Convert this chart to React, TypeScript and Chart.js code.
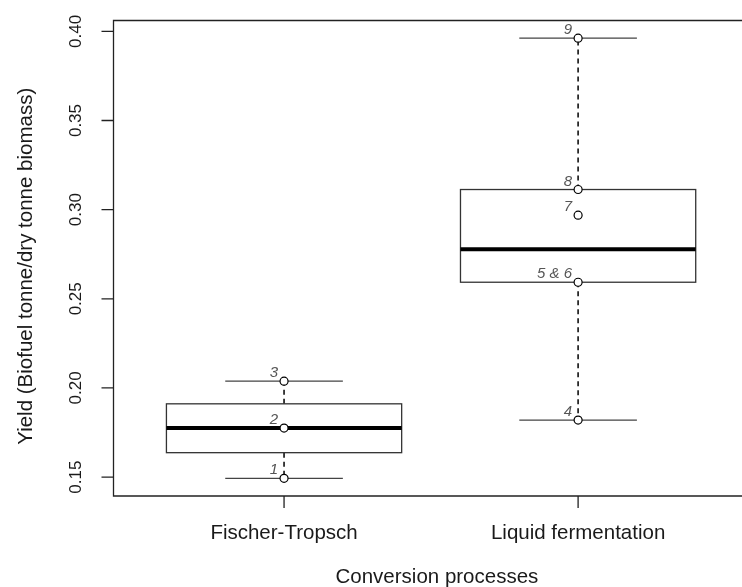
import React, { useEffect, useRef } from "react";
import { Chart, registerables } from "chart.js";

Chart.register(...registerables);

// ---- data ----
const categories = ["Fischer-Tropsch", "Liquid fermentation"];
const categoryPositions = [1, 2];
const whiskerLow = [0.1493, 0.182];
const q1 = [0.1637, 0.2593];
const median = [0.1775, 0.2778];
const q3 = [0.1911, 0.3113];
const whiskerHigh = [0.2038, 0.3962];

const pointGroup = [1, 1, 1, 2, 2, 2, 2, 2];
const pointValues = [0.1493, 0.1775, 0.2038, 0.182, 0.2593, 0.2969, 0.3113, 0.3962];
const pointLabels = ["1", "2", "3", "4", "5 & 6", "7", "8", "9"];

const yTicks = [0.15, 0.2, 0.25, 0.3, 0.35, 0.4];
const yTickLabels = ["0.15", "0.20", "0.25", "0.30", "0.35", "0.40"];
const yMin = 0.1394;
const yMax = 0.4061;
const xMin = 0.42;
const xMax = 2.5397;

const yTitle = "Yield (Biofuel tonne/dry tonne biomass)";
const xTitle = "Conversion processes";

const FONT = "'Liberation Sans', Arial, sans-serif";

const boxPlugin = {
  id: "boxDraw",
  beforeDatasetsDraw(chart: any) {
    const ctx = chart.ctx as CanvasRenderingContext2D;
    const xs = chart.scales.x;
    const ys = chart.scales.y;
    ctx.save();

    categoryPositions.forEach((c, i) => {
      const xl = xs.getPixelForValue(c - 0.4);
      const xr = xs.getPixelForValue(c + 0.4);
      const sl = xs.getPixelForValue(c - 0.2);
      const sr = xs.getPixelForValue(c + 0.2);
      const xc = xs.getPixelForValue(c);
      const yq1 = ys.getPixelForValue(q1[i]);
      const yq3 = ys.getPixelForValue(q3[i]);
      const ymed = ys.getPixelForValue(median[i]);
      const ylo = ys.getPixelForValue(whiskerLow[i]);
      const yhi = ys.getPixelForValue(whiskerHigh[i]);

      // whiskers dashed
      ctx.strokeStyle = "#111";
      ctx.lineWidth = 1.6;
      ctx.setLineDash([5, 4]);
      ctx.beginPath();
      ctx.moveTo(xc, yq1);
      ctx.lineTo(xc, ylo);
      ctx.moveTo(xc, yq3);
      ctx.lineTo(xc, yhi);
      ctx.stroke();
      ctx.setLineDash([]);

      // staples
      ctx.strokeStyle = "#444";
      ctx.lineWidth = 1.3;
      ctx.beginPath();
      ctx.moveTo(sl, ylo);
      ctx.lineTo(sr, ylo);
      ctx.moveTo(sl, yhi);
      ctx.lineTo(sr, yhi);
      ctx.stroke();

      // box
      ctx.strokeStyle = "#333";
      ctx.lineWidth = 1.3;
      ctx.strokeRect(xl, yq3, xr - xl, yq1 - yq3);

      // median
      ctx.strokeStyle = "#000";
      ctx.lineWidth = 4;
      ctx.beginPath();
      ctx.moveTo(xl, ymed);
      ctx.lineTo(xr, ymed);
      ctx.stroke();
    });

    ctx.restore();
  },
  afterDraw(chart: any) {
    const ctx = chart.ctx as CanvasRenderingContext2D;
    const xs = chart.scales.x;
    const ys = chart.scales.y;
    const area = chart.chartArea;
    const W = chart.width;
    ctx.save();

    // frame (top, left, bottom)
    ctx.strokeStyle = "#222";
    ctx.lineWidth = 1.3;
    ctx.beginPath();
    ctx.moveTo(W + 2, area.top);
    ctx.lineTo(area.left, area.top);
    ctx.lineTo(area.left, area.bottom);
    ctx.lineTo(W + 2, area.bottom);
    ctx.stroke();

    // ticks
    ctx.beginPath();
    yTicks.forEach((v) => {
      const y = ys.getPixelForValue(v);
      ctx.moveTo(area.left - 12, y);
      ctx.lineTo(area.left, y);
    });
    categoryPositions.forEach((c) => {
      const x = xs.getPixelForValue(c);
      ctx.moveTo(x, area.bottom);
      ctx.lineTo(x, area.bottom + 12);
    });
    ctx.stroke();

    // y tick labels (rotated)
    ctx.fillStyle = "#1a1a1a";
    ctx.font = `17px ${FONT}`;
    ctx.textAlign = "center";
    ctx.textBaseline = "alphabetic";
    yTicks.forEach((v, i) => {
      const y = ys.getPixelForValue(v);
      ctx.save();
      ctx.translate(area.left - 33, y);
      ctx.rotate(-Math.PI / 2);
      ctx.fillText(yTickLabels[i], 0, 0);
      ctx.restore();
    });

    // x tick labels
    ctx.font = `20.5px ${FONT}`;
    categoryPositions.forEach((c, i) => {
      const x = xs.getPixelForValue(c);
      ctx.fillText(categories[i], x, area.bottom + 43);
    });

    // x title
    ctx.fillText(xTitle, (area.left + xs.getPixelForValue(xMax + 0.08)) / 2, area.bottom + 87);

    // y title
    ctx.save();
    ctx.translate(area.left - 82, (area.top + area.bottom) / 2 + 8);
    ctx.rotate(-Math.PI / 2);
    ctx.fillText(yTitle, 0, 0);
    ctx.restore();

    // point labels
    ctx.fillStyle = "#555";
    ctx.font = `italic 15px ${FONT}`;
    ctx.textAlign = "right";
    ctx.textBaseline = "alphabetic";
    pointValues.forEach((v, i) => {
      const x = xs.getPixelForValue(pointGroup[i]);
      const y = ys.getPixelForValue(v);
      ctx.fillText(pointLabels[i], x - 6, y - 4);
    });

    ctx.restore();
  },
};

export default function App() {
  const ref = useRef<HTMLCanvasElement | null>(null);
  useEffect(() => {
    if (!ref.current) return;
    const chart = new Chart(ref.current, {
      type: "scatter",
      data: {
        datasets: [
          {
            data: pointValues.map((v, i) => ({ x: pointGroup[i], y: v })),
            pointStyle: "circle",
            pointRadius: 4,
            pointBorderColor: "#000",
            pointBackgroundColor: "rgba(255,255,255,1)",
            pointBorderWidth: 1.2,
            showLine: false,
          },
        ],
      },
      options: {
        responsive: false,
        animation: false,
        events: [],
        layout: { padding: { left: 113.5, top: 20.5, right: 0, bottom: 91 } },
        plugins: { legend: { display: false }, tooltip: { enabled: false } },
        scales: {
          x: { type: "linear", min: xMin, max: xMax, display: false },
          y: { type: "linear", min: yMin, max: yMax, display: false },
        },
      },
      plugins: [boxPlugin],
    });
    return () => chart.destroy();
  }, []);
  return (
    <div style={{ position: "absolute", left: 0, top: 0, width: 742, height: 587, background: "#fff" }}>
      <canvas ref={ref} width={742} height={587} style={{ display: "block" }} />
    </div>
  );
}
